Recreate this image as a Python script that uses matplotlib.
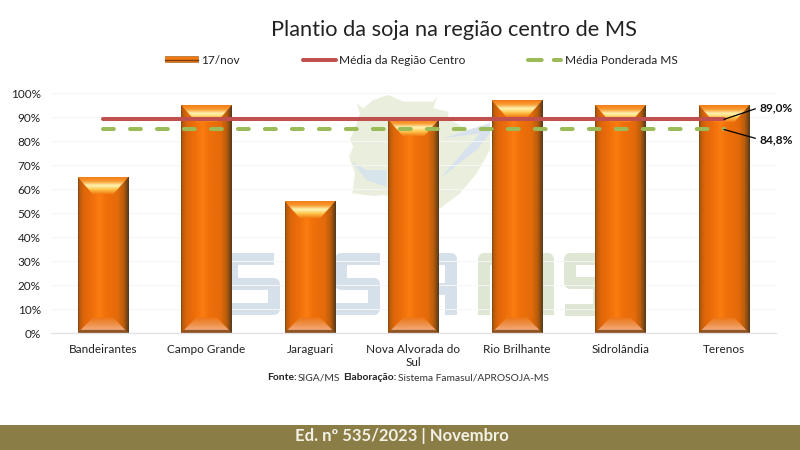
#!/usr/bin/env python3
import numpy as np
import matplotlib
matplotlib.use("Agg")
import matplotlib.pyplot as plt
from matplotlib.colors import LinearSegmentedColormap
from matplotlib.lines import Line2D
from matplotlib.patches import Patch, Polygon, Rectangle

plt.rcParams['font.family'] = ['Lato', 'DejaVu Sans']

categories = ['Bandeirantes', 'Campo Grande', 'Jaraguari', 'Nova Alvorada do\nSul',
              'Rio Brilhante', 'Sidrolândia', 'Terenos']
plantio = [65, 95, 55, 89, 97, 95, 95]
media_centro = [89.0] * 7
media_ms = [84.8] * 7
yticks = list(range(0, 101, 10))

W, H = 800, 450
BAR_W = 0.49
BEVEL_X = 15 / 103.5   # bevel inset, in category units
BEVEL_Y = 17 / 2.4     # bevel height, in percent

side_cmap = LinearSegmentedColormap.from_list('side', [
    (0.0, '#7a4414'), (0.03, '#b85c0c'), (0.12, '#e0660a'), (0.3, '#f0700a'), (0.42, '#fb7c10'),
    (0.55, '#f0700a'), (0.78, '#e46a0a'), (0.9, '#b85c0c'), (1.0, '#54381c')])
top_cmap = LinearSegmentedColormap.from_list('top', [
    (0.0, '#f47c14'), (0.25, '#f99a30'), (0.5, '#fff6b4'), (0.72, '#ffc850'), (1.0, '#f27a10')])
bottom_cmap = LinearSegmentedColormap.from_list('bottom', [
    (0.0, '#ec7412'), (0.45, '#ee9048'), (0.78, '#f4a878'), (0.84, '#8c5220'), (1.0, '#8a4e1c')])

fig = plt.figure(figsize=(W / 100, H / 100), dpi=100, facecolor='white')


def px(x, y):
    return x / W, 1 - y / H


# background watermark, in pixels of the figure
bg = fig.add_axes([0, 0, 1, 1], zorder=0)
bg.set_xlim(0, W)
bg.set_ylim(H, 0)
bg.axis('off')

map_outline = [(470, 40), (490, 55), (520, 30), (565, 15), (610, 35), (660, 35), (700, 35), (712, 20),
               (700, 55), (745, 65), (745, 90), (770, 100), (800, 120), (870, 100), (870, 180), (830, 250),
               (780, 310), (720, 355), (640, 335), (550, 315), (520, 318), (457, 310), (465, 250),
               (447, 200), (460, 170), (450, 150), (470, 100), (480, 70)]
swoosh_a = [(455, 215), (500, 240), (560, 240), (560, 290), (500, 270)]
swoosh_b = [(720, 265), (790, 210), (830, 180), (870, 130), (870, 100), (730, 145), (840, 130)]
for pts, col in [(map_outline, '#e9efdc'), (swoosh_a, '#d8e4ec'), (swoosh_b, '#d8e2ef')]:
    bg.add_patch(Polygon([(200 + a / 3, 90 + b / 3) for a, b in pts], closed=True, fc=col, ec='none'))

BLUE, GREEN = '#d6e0eb', '#dde7d3'
letters = [
    ([(274, 259), (232, 259), (232, 284), (274, 284), (274, 309), (228, 309)], BLUE),
    ([(380, 259), (341, 259), (341, 284), (374, 284), (374, 309), (335, 309)], BLUE),
    ([(395, 309), (395, 259), (451, 259), (451, 315)], BLUE),
    ([(395, 289), (451, 289)], BLUE),
    ([(484, 315), (484, 259), (516, 259), (516, 315)], GREEN),
    ([(516, 259), (548, 259), (548, 315)], GREEN),
    ([(605, 259), (570, 259), (570, 283), (599, 283), (599, 310), (565, 310)], GREEN),
]
for pts, col in letters:
    xs, ys = zip(*pts)
    bg.plot(xs, ys, color=col, lw=8.6, solid_joinstyle='round', solid_capstyle='butt')

# chart
ax = fig.add_axes([51.25 / W, 117 / H, 724.5 / W, 240 / H], zorder=1)
ax.patch.set_alpha(0)
x = np.arange(len(categories))
grad = np.linspace(0, 1, 256)

bars = ax.bar(x, plantio, width=BAR_W, color='#ec6e0a', linewidth=0, zorder=2, label='17/nov')
for rect in bars:
    x0, w, h = rect.get_x(), rect.get_width(), rect.get_height()
    im = ax.imshow(grad[None, :], extent=(x0, x0 + w, 0, h), aspect='auto', cmap=side_cmap, zorder=2.1)
    im.set_clip_path(rect)

    top = Polygon([(x0, h), (x0 + w, h), (x0 + w - BEVEL_X, h - BEVEL_Y), (x0 + BEVEL_X, h - BEVEL_Y)],
                  closed=True, fc='none', ec='none', transform=ax.transData)
    ax.add_patch(top)
    im = ax.imshow(grad[:, None], extent=(x0, x0 + w, h - BEVEL_Y, h), origin='upper', aspect='auto',
                   cmap=top_cmap, zorder=2.2)
    im.set_clip_path(top)

    bottom = Polygon([(x0, 0), (x0 + w, 0), (x0 + w - BEVEL_X, BEVEL_Y * 0.9), (x0 + BEVEL_X, BEVEL_Y * 0.9)],
                     closed=True, fc='none', ec='none', transform=ax.transData)
    ax.add_patch(bottom)
    im = ax.imshow(grad[:, None], extent=(x0, x0 + w, 0, BEVEL_Y * 0.9), origin='upper', aspect='auto',
                   cmap=bottom_cmap, zorder=2.2)
    im.set_clip_path(bottom)

ax.plot(x, media_centro, color='#c0504d', lw=2.9, solid_capstyle='round', zorder=3,
        label='Média da Região Centro')
ax.plot(x, media_ms, color='#9bbb59', lw=2.9, dash_capstyle='round', dashes=(2.7, 4.0), zorder=3,
        label='Média Ponderada MS')

# end labels with leader lines
for val, dy in [(media_centro[-1], -12), (media_ms[-1], 10)]:
    ax.annotate(f'{val:.1f}%'.replace('.', ','), xy=(x[-1], val), xycoords='data',
                xytext=(35.5, -dy), textcoords='offset pixels', fontsize=8.6, fontweight='bold',
                color='#111111', va='center', ha='left', zorder=5,
                arrowprops=dict(arrowstyle='-', color='black', lw=0.9, shrinkA=1, shrinkB=0,
                                relpos=(0, 0.5)))

ax.set_xlim(-0.5, 6.5)
ax.set_ylim(0, 100)
ax.set_xticks(x)
ax.set_xticklabels(categories, fontsize=8.5, color='#222222', linespacing=1.2)
ax.set_yticks(yticks)
ax.set_yticklabels([f'{t}%' for t in yticks], fontsize=8.5, color='#222222')
ax.tick_params(axis='x', length=0, pad=8)
ax.tick_params(axis='y', length=0, pad=7.5)
ax.yaxis.grid(True, color='#f6f6f6', lw=0.7, zorder=0)
ax.set_axisbelow(True)
for name in ['top', 'right', 'left']:
    ax.spines[name].set_visible(False)
ax.spines['bottom'].set_color('#e2e2e6')
ax.spines['bottom'].set_linewidth(1.0)

# legend, one row under the title
bar_handle = (Patch(facecolor='#f07a14', edgecolor='#b87838', linewidth=0.6),
              Line2D([0], [0], color='#7a3c0c', lw=1.0))
handles = [bar_handle,
           Line2D([0], [0], color='#c0504d', lw=2.9, solid_capstyle='round'),
           Line2D([0], [0], color='#9bbb59', lw=2.9, dash_capstyle='round', dashes=(3.4, 3))]
fig.legend(handles, ['17/nov', 'Média da Região Centro', 'Média Ponderada MS'],
           loc='center left', bbox_to_anchor=px(165, 60), ncol=3, frameon=False, fontsize=8.6,
           borderpad=0, borderaxespad=0, handlelength=2.75, handleheight=0.45, handletextpad=0.3,
           columnspacing=5.25, labelcolor='#222222')

fig.text(*px(454, 30.5), 'Plantio da soja na região centro de MS', fontsize=15.7, color='#222222',
         ha='center', va='center')

# source line, bold and regular parts side by side
fig.text(*px(267, 378), 'Fonte:', fontsize=7.4, fontweight='bold', color='#222222', va='center')
fig.text(*px(298, 378), 'SIGA/MS', fontsize=7.4, color='#333333', va='center')
fig.text(*px(343, 378), 'Elaboração:', fontsize=7.4, fontweight='bold', color='#222222', va='center')
fig.text(*px(398, 378), 'Sistema Famasul/APROSOJA-MS', fontsize=7.4, color='#333333', va='center')

# footer band
fig.add_artist(Rectangle((0, 0), 1, 25 / H, transform=fig.transFigure, fc='#8a7d45', ec='none', zorder=2))
fig.text(*px(402, 436.5), 'Ed. nº 535/2023 | Novembro', fontsize=12, fontweight='bold',
         color='#f4f1e6', ha='center', va='center', zorder=3)

fig.savefig('out.png', dpi=100)
